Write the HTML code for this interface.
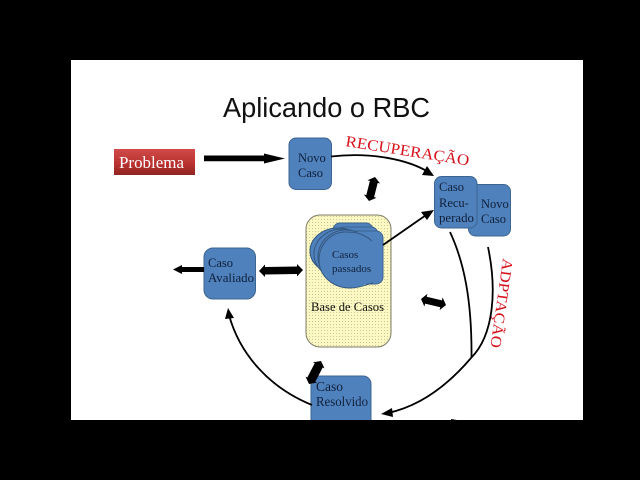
<!DOCTYPE html>
<html lang="pt">
<head>
<meta charset="utf-8">
<style>
html,body{margin:0;padding:0;background:#000;width:640px;height:480px;overflow:hidden}
svg{display:block}
text{font-family:"Liberation Serif",serif}
.n{font-size:12.5px;fill:#10203a}
</style>
</head>
<body>
<svg width="640" height="480" viewBox="0 0 640 480" xmlns="http://www.w3.org/2000/svg">
<defs>
<pattern id="dots" width="3" height="3" patternUnits="userSpaceOnUse">
<rect width="3" height="3" fill="#fbf8c4"/>
<rect x="0" y="0" width="1" height="1" fill="#cfc98f"/>
</pattern>
<linearGradient id="red" x1="0" y1="0" x2="0" y2="1">
<stop offset="0" stop-color="#cf4a48"/>
<stop offset="0.6" stop-color="#b8312f"/>
<stop offset="1" stop-color="#8f2422"/>
</linearGradient>
<clipPath id="slide"><rect x="71" y="60" width="512" height="360"/></clipPath>
</defs>

<rect x="71" y="60" width="512" height="360" fill="#fff"/>

<g clip-path="url(#slide)" style="filter:blur(.3px)">
<text x="223" y="117" textLength="207" lengthAdjust="spacingAndGlyphs" style="font-family:'Liberation Sans',sans-serif;font-size:28px" fill="#111">Aplicando o RBC</text>

<!-- Problema -->
<rect x="114" y="149" width="81" height="26" fill="url(#red)"/>
<text x="119" y="168" font-size="16.5" fill="#fff" textLength="65" lengthAdjust="spacingAndGlyphs">Problema</text>
<polygon points="204,155.500 264,155.500 264,153.500 285,158.500 264,163.500 264,161.200 204,161.200" fill="#000"/>

<!-- Novo Caso -->
<rect x="289" y="138" width="42.500" height="51.500" rx="7" fill="#4f81bd" stroke="#3d6591"/>
<text x="298" y="162" class="n">Novo</text>
<text x="298" y="177" class="n">Caso</text>

<!-- Recuperacao -->
<text x="345" y="146" font-size="15.500" fill="#d5121c" transform="rotate(9 345 146)" textLength="125" lengthAdjust="spacingAndGlyphs">RECUPERAÇÃO</text>
<path d="M331,156.500 C370,152 408,159 430,173" fill="none" stroke="#000" stroke-width="1.800"/>
<polygon points="434,176 422,175 427,166" fill="#000"/>

<!-- Double arrow top -->
<polygon points="375,177 380.100,183.500 377.700,182.900 374.100,197.100 376.500,197.700 369,201 363.900,194.500 366.300,195.100 369.900,180.900 367.500,180.300" fill="#000"/>

<!-- Base de Casos -->
<rect x="306" y="215" width="85" height="132" rx="14" fill="url(#dots)" stroke="#7d7d68"/>
<text x="311" y="311" font-size="12.500" fill="#111" textLength="73" lengthAdjust="spacingAndGlyphs">Base de Casos</text>

<!-- Casos passados stack -->
<rect x="333" y="223" width="40" height="40" rx="7" fill="#4f81bd" stroke="#3d6591"/>
<rect x="337" y="227" width="41" height="45" rx="7" fill="#4f81bd" stroke="#3d6591"/>
<rect x="340" y="231" width="43" height="53" rx="7" fill="#4f81bd" stroke="#3d6591"/>
<ellipse cx="338" cy="251" rx="28" ry="23" fill="#4f81bd" stroke="#34587f"/>
<ellipse cx="342" cy="254" rx="28" ry="25" fill="#4f81bd" stroke="#34587f"/>
<ellipse cx="346" cy="257" rx="28" ry="27" fill="#4f81bd" stroke="#34587f"/>
<ellipse cx="350" cy="260" rx="31" ry="28" fill="#4f81bd" stroke="none"/>
<rect x="350" y="232" width="32" height="51" rx="6" fill="#4f81bd"/>
<path d="M372,241 C362,232 352,232 346,232 C330,232 319,245 319,260 C319,276 333,288 350,288 C360,288 368,284 373,283" fill="none" stroke="#34587f"/>
<text x="332" y="258" font-size="11" fill="#10203a">Casos</text>
<text x="332" y="272" font-size="11" fill="#10203a">passados</text>

<path d="M383,245 L429,213" fill="none" stroke="#000" stroke-width="1.800"/>
<polygon points="434,210 427,220 421,212" fill="#000"/>

<!-- Novo Caso (back) and Caso Recuperado -->
<rect x="468.500" y="184.500" width="42" height="51.500" rx="7" fill="#4f81bd" stroke="#3d6591"/>
<text x="481" y="208" class="n">Novo</text>
<text x="481" y="223" class="n">Caso</text>
<rect x="434.500" y="176.500" width="42.500" height="51.500" rx="7" fill="#4f81bd" stroke="#3d6591"/>
<text x="439" y="191" class="n">Caso</text>
<text x="439" y="207" class="n">Recu-</text>
<text x="439" y="222" class="n" textLength="35" lengthAdjust="spacingAndGlyphs">perado</text>

<!-- Adaptacao -->
<text x="503" y="258" font-size="15" fill="#d5121c" transform="rotate(98 503 258)" textLength="90" lengthAdjust="spacingAndGlyphs">ADPTAÇÃO</text>

<!-- Curves right -->
<path d="M450,232 C464,262 472,300 471.500,358" fill="none" stroke="#000" stroke-width="1.800"/>
<path d="M488,247 C497,290 494,335 471,358 C448,385 420,406 388,413" fill="none" stroke="#000" stroke-width="1.800"/>
<polygon points="381,414 392,408 393,417" fill="#000"/>

<!-- Mid double arrow -->
<polygon points="421,299 427.400,293.900 426.700,296.800 441.900,300.400 442.600,297.500 446,305 439.600,310.100 440.300,307.200 425.100,303.600 424.400,306.500" fill="#000"/>

<!-- Caso Avaliado -->
<rect x="204" y="248" width="51.500" height="51" rx="9" fill="#4f81bd" stroke="#3d6591"/>
<text x="208" y="267" class="n">Caso</text>
<text x="208" y="282" class="n" textLength="46" lengthAdjust="spacingAndGlyphs">Avaliado</text>
<polygon points="173,269.500 182,265 182,267 204,267 204,272 182,272 182,274" fill="#000"/>
<polygon points="259,271 265,264.500 265,267 297,266.500 297,264 303,270 297,276.500 297,274 265,274.500 265,277" fill="#000"/>

<!-- Caso Resolvido -->
<rect x="311" y="376" width="60" height="60" rx="8" fill="#4f81bd" stroke="#3d6591"/>
<text x="316" y="391" font-size="13.500" fill="#10203a">Caso</text>
<text x="316" y="406" font-size="13.500" fill="#10203a" textLength="52" lengthAdjust="spacingAndGlyphs">Resolvido</text>
<polygon points="321,361 324.500,368.400 322.700,367.500 315.300,381.700 317.100,382.600 309,384 305.500,376.600 307.300,377.500 314.700,363.300 312.900,362.400" fill="#000"/>

<!-- Curve to Avaliado -->
<path d="M312,405 C270,388 240,355 229,315" fill="none" stroke="#000" stroke-width="1.800"/>
<polygon points="228,308 234,318 225,319" fill="#000"/>

<!-- bottom fragment -->
<polygon points="451,419 463,421 451,424" fill="#000"/>
</g>

<rect x="0" y="420" width="640" height="60" fill="#000"/>
</svg>
</body>
</html>
